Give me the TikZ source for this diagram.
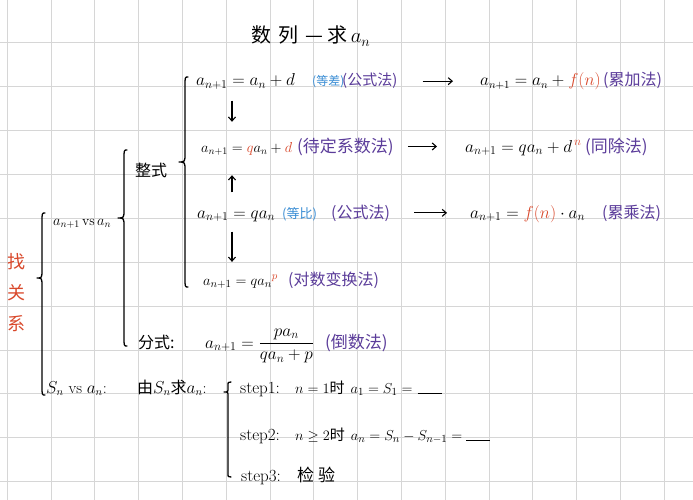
\documentclass[tikz,border=0pt]{standalone}
\usepackage{amsmath}
\usepackage{fontspec}
\newfontfamily\cjk{Noto Sans CJK SC}
\usetikzlibrary{arrows.meta}
\definecolor{cred}{HTML}{D9482B}
\definecolor{cblue}{HTML}{3A8DD4}
\definecolor{cpurple}{HTML}{5B3C9A}
\definecolor{gridc}{HTML}{D6D6D6}
\newcommand\curlyb[6]{%
 \draw[bracepen] ({#1+3},#2) .. controls ({#1},#2) .. ({#1},{#2+#6}) -- ({#1},{#3-#6})
   .. controls ({#1},#3) .. ({#1-#5},#3) .. controls ({#1},#3) .. ({#1},{#3+#6})
   -- ({#1},{#4-#6}) .. controls ({#1},#4) .. ({#1+3},#4);}
\newcommand\blankline{\rule[-1pt]{24pt}{0.9pt}}
\newcommand\fs[1]{\fontsize{#1}{#1}\selectfont}
\tikzset{
 txt/.style={anchor=base west, inner sep=0pt, font=\fs{16}},
 cn/.style={anchor=base west, inner sep=0pt, font=\fs{16}\cjk},
 meth/.style={cn, text=cpurple},
 kind/.style={anchor=base west, inner sep=0pt, text=cblue, font=\fs{12}\cjk},
 arr/.style={-{Straight Barb[length=4pt,width=7pt]}, line width=1.1pt},
 bracepen/.style={line width=1.3pt, line cap=round, line join=round},
 gridline/.style={gridc, line width=0.8pt},
}
\begin{document}
\begin{tikzpicture}[x=1pt,y=-1pt]
\useasboundingbox (0,0) rectangle (693,500);
\fill[white] (0,0) rectangle (693,500);
% grid
\foreach \i in {0,...,15} \draw[gridline] ({7.2+43.8*\i},0) -- ({7.2+43.8*\i},500);
\foreach \j in {0,...,10} \draw[gridline] (0,{42.6+43.9*\j}) -- (693,{42.6+43.9*\j});

% title
\node[anchor=base, inner sep=0pt, font=\fs{20}] (title) at (311,43)
  {{\cjk 数\hspace{7pt}列\hspace{7pt}—\hspace{4pt}求}\,$a_n$};

% row 1
\node[txt, font=\fs{18}] (r1a) at (196,86) {$a_{n+1}=a_n+d$};
\node[kind] (r1b) at (312,86) {(等差)};
\node[meth, font=\fs{15}\cjk] (r1c) at (342,86) {(公式法)};
\node[txt] (r1d) at (480,86) {$a_{n+1}=a_n+\textcolor{cred}{f(n)}$};
\node[meth] (r1e) at (603,86) {(累加法)};

% row 2
\node[txt, font=\fs{14.5}] (r2a) at (201,152) {$a_{n+1}=\textcolor{cred}{q}a_n+\textcolor{cred}{d}$};
\node[meth, font=\fs{17}\cjk] (r2b) at (297,152) {(待定系数法)};
\node[txt, font=\fs{17}] (r2c) at (465,152) {$a_{n+1}=qa_n+d^{\,\textcolor{cred}{n}}$};
\node[meth, font=\fs{17}\cjk] (r2d) at (585,152) {(同除法)};

% row 3
\node[txt, font=\fs{17}] (r3a) at (197,218) {$a_{n+1}=qa_n$};
\node[kind, font=\fs{13}\cjk] (r3b) at (282,218) {(等比)};
\node[meth] (r3c) at (331,218) {(公式法)};
\node[txt, font=\fs{16.5}] (r3d) at (470,218) {$a_{n+1}=\textcolor{cred}{f(n)}\cdot a_n$};
\node[meth] (r3e) at (602,218) {(累乘法)};

% row 4
\node[txt, font=\fs{15.5}] (r4a) at (203,285) {$a_{n+1}=q{a_n}^{\textcolor{cred}{p}}$};
\node[meth] (r4b) at (288,285) {(对数变换法)};

% horizontal arrows
\draw[arr, shorten <=25pt, shorten >=27pt] (r1c.east) -- (r1c.east -| r1d.west);
\draw[arr, shorten <=14pt, shorten >=28pt] (r2b.east) -- (r2b.east -| r2c.west);
\draw[arr, shorten <=24pt, shorten >=23pt] (r3c.east) -- (r3c.east -| r3d.west);

% vertical arrows
\coordinate (vx) at (232,0);
\draw[arr, shorten <=11pt, shorten >=20pt] (r1a.south -| vx) -- (r2a.north -| vx);
\draw[arr, shorten <=18pt, shorten >=20pt] (r3a.north -| vx) -- (r2a.south -| vx);
\draw[arr, shorten <=10pt, shorten >=13pt] (r3a.south -| vx) -- (r4a.north -| vx);

% braces
\curlyb{185}{77}{162}{287}{6}{9}
\curlyb{124}{150}{218}{346}{6}{9}
\curlyb{42}{213}{278}{395}{5}{9}
\curlyb{228}{382}{392}{477}{4}{4}

% left labels
\node[anchor=west, inner sep=0pt, font=\fs{16}\cjk] (zs) at (135,170) {整式};
\node[txt, font=\fs{14}] (avs) at (53,225) {$a_{n+1}$\,vs\,$a_n$};
\node[inner sep=0pt, align=center, text=cred, font=\fontsize{18}{31}\selectfont\cjk] (zgx) at (16,293) {找\\关\\系};

% fraction row
\node[anchor=base west, inner sep=0pt, font=\fs{16}\cjk] (fsh) at (138,348) {分式:};
\node[txt, font=\fs{16.5}] (r5a) at (205,348) {$a_{n+1}=\dfrac{pa_n}{qa_n+p}$};
\node[meth, font=\fs{17}\cjk] (r5b) at (325,348) {(倒数法)};

% S_n row
\node[txt] (sn) at (46,393) {$S_n$~vs~$a_n$:};
\node[txt] (yq) at (137,393) {{\cjk 由}$S_n${\cjk 求}$a_n$:};
\node[txt, font=\fs{17}] (s1l) at (240,393) {step1:};
\node[txt, font=\fs{15}] (s1c) at (295,393) {$n=1${\cjk 时}\hspace{6pt}$a_1=S_1=$\hspace{5pt}\blankline};
\node[txt, font=\fs{17}] (s2l) at (240,440) {step2:};
\node[txt, font=\fs{15}] (s2c) at (295,440) {$n\geq 2${\cjk 时}\hspace{6pt}$a_n=S_n-S_{n-1}=$\hspace{4pt}\blankline};
\node[txt, font=\fs{17}] (s3l) at (241,481) {step3:};
\node[cn, font=\fs{17}\cjk] (s3c) at (297,481) {检\hspace{4pt}验};
\end{tikzpicture}
\end{document}
